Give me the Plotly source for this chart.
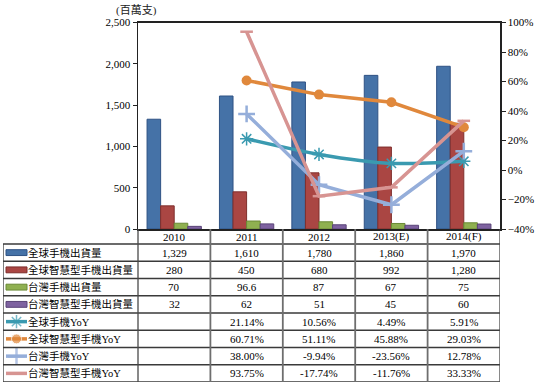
import plotly.graph_objects as go

# ---------------- data ----------------
years = ["2010", "2011", "2012", "2013(E)", "2014(F)"]
yoy_years = ["2011", "2012", "2013(E)", "2014(F)"]

bar_names = ["全球手機出貨量", "全球智慧型手機出貨量", "台灣手機出貨量", "台灣智慧型手機出貨量"]
global_phone = [1329, 1610, 1780, 1860, 1970]
global_smart = [280, 450, 680, 992, 1280]
tw_phone = [70, 96.6, 87, 67, 75]
tw_smart = [32, 62, 51, 45, 60]

line_names = ["全球手機YoY", "全球智慧型手機YoY", "台灣手機YoY", "台灣智慧型手機YoY"]
global_phone_yoy = [21.14, 10.56, 4.49, 5.91]
global_smart_yoy = [60.71, 51.11, 45.88, 29.03]
tw_phone_yoy = [38.00, -9.94, -23.56, 12.78]
tw_smart_yoy = [93.75, -17.74, -11.76, 33.33]

left_ticks = [0, 500, 1000, 1500, 2000, 2500]
right_ticks = [-0.4, -0.2, 0, 0.2, 0.4, 0.6, 0.8, 1.0]

# ---------------- styling ----------------
W, H = 538, 387
bar_colors = ["#4572A7", "#AA4643", "#8FB050", "#7E62A0"]
bar_edges = ["#2F5284", "#7F2F2D", "#6A8A36", "#5A4478"]
line_colors = ["#3A9AB0", "#E0883C", "#95AEDA", "#D79492"]
NUM_FONT = "Liberation Serif"
CJK_FONT = "Liberation Serif, Noto Sans CJK TC, sans-serif"
GRID = "#3a3a3a"


def fx(px):
    return px / W


def fy(py):
    return 1 - py / H


PLOT_L, PLOT_R, PLOT_T, PLOT_B = 138, 500, 22.5, 229
TAB_L, TAB_B = 3, 382
ROW_H = (TAB_B - 244) / 8
HDR = (244 - PLOT_B) / ROW_H
COL_W = (PLOT_R - PLOT_L) / 5
LBL = (PLOT_L - TAB_L) / COL_W  # label column width in column units

fig = go.Figure()

bar_series = [global_phone, global_smart, tw_phone, tw_smart]
for name, vals, c, e in zip(bar_names, bar_series, bar_colors, bar_edges):
    fig.add_trace(go.Bar(x=years, y=vals, name=name, marker=dict(color=c, line=dict(color=e, width=1)),
                         xaxis="x", yaxis="y"))

line_series = [global_phone_yoy, global_smart_yoy, tw_phone_yoy, tw_smart_yoy]
line_markers = [
    dict(symbol="asterisk-open", size=11, line=dict(color="#5BB8CC", width=1.5)),
    dict(symbol="circle", size=10, color=line_colors[1]),
    dict(symbol="cross-thin-open", size=12, line=dict(color="#A9BEE2", width=2.5)),
    dict(symbol="line-ew-open", size=9, line=dict(color=line_colors[3], width=2.5)),
]
line_shapes = ["spline", "linear", "linear", "linear"]
for name, vals, c, m, shp in zip(line_names, line_series, line_colors, line_markers, line_shapes):
    fig.add_trace(go.Scatter(x=yoy_years, y=[v / 100 for v in vals], name=name, mode="lines+markers",
                             line=dict(color=c, width=3.5, shape=shp, smoothing=0.8), marker=m,
                             xaxis="x", yaxis="y2", cliponaxis=False))

# ---------------- data table (overlay axes x3/y3) ----------------
annotations = []
shapes = []

# year header
for k, yr in enumerate(years):
    annotations.append(dict(x=k + 0.5, y=-HDR / 2, xref="x3", yref="y3", text=yr, showarrow=False,
                            font=dict(family=NUM_FONT, size=11, color="black")))


def fmt_num(v):
    return f"{v:,}" if isinstance(v, int) else f"{v}"


rows_text = [[fmt_num(v) for v in s] for s in bar_series]
rows_text += [[""] + [f"{v:.2f}%" for v in s] for s in line_series]
all_names = bar_names + line_names

for r, (nm, vals) in enumerate(zip(all_names, rows_text)):
    annotations.append(dict(x=-LBL + 23 / COL_W, y=r + 0.5, xref="x3", yref="y3", text=nm,
                            showarrow=False, xanchor="left",
                            font=dict(family=CJK_FONT, size=10.5, color="black")))
    for k, t in enumerate(vals):
        if t:
            annotations.append(dict(x=k + 0.5, y=r + 0.5, xref="x3", yref="y3", text=t, showarrow=False,
                                    font=dict(family=NUM_FONT, size=11, color="black")))

# legend keys for bar rows
for r in range(4):
    shapes.append(dict(type="rect", xref="x3", yref="y3", x0=-LBL + 3 / COL_W, x1=-LBL + 24 / COL_W,
                       y0=r + 0.5 - 0.17, y1=r + 0.5 + 0.17, fillcolor=bar_colors[r],
                       line=dict(color=bar_edges[r], width=1)))
# legend keys for line rows
for i in range(4):
    r = 4 + i
    m = dict(line_markers[i])
    m = dict(m, size=[0, m["size"], 0])
    fig.add_trace(go.Scatter(x=[-LBL + 3 / COL_W, -LBL + 13.5 / COL_W, -LBL + 24 / COL_W], y=[r + 0.5] * 3,
                             mode="lines+markers", line=dict(color=line_colors[i], width=3.5),
                             marker=m, xaxis="x3", yaxis="y3", cliponaxis=False, showlegend=False,
                             hoverinfo="skip"))

# grid lines
for r in range(9):
    shapes.append(dict(type="line", xref="x3", yref="y3", x0=-LBL, x1=5, y0=r, y1=r,
                       line=dict(color=GRID, width=1.3)))
shapes.append(dict(type="line", xref="x3", yref="y3", x0=-LBL, x1=-LBL, y0=0, y1=8,
                   line=dict(color=GRID, width=1.3)))
for k in range(6):
    shapes.append(dict(type="line", xref="x3", yref="y3", x0=k, x1=k, y0=-HDR, y1=8,
                       line=dict(color="#4a4a4a" if k in (0, 5) else "#6e6e6e",
                                 width=1.3 if k in (0, 5) else 1.8)))

annotations.append(dict(x=fx(114), y=fy(10), xref="paper", yref="paper", text="(百萬支)", showarrow=False,
                        yanchor="middle", font=dict(family=CJK_FONT, size=11, color="#222")))

fig.update_layout(
    template="none",
    width=W, height=H, margin=dict(l=0, r=0, t=0, b=0, pad=0), autosize=False,
    paper_bgcolor="white", plot_bgcolor="white", showlegend=False,
    font=dict(family=NUM_FONT, size=11, color="black"),
    barmode="group", bargap=0.25, bargroupgap=0,
    xaxis=dict(domain=[fx(PLOT_L), fx(PLOT_R)], type="category", categoryorder="array", categoryarray=years,
               range=[-0.5, 4.5], showticklabels=False, ticks="", showline=True, linecolor="#222",
               linewidth=1.5, mirror=True, showgrid=False, zeroline=False, anchor="y", automargin=False),
    yaxis=dict(domain=[fy(PLOT_B), fy(PLOT_T)], range=[0, 2500], tickvals=left_ticks, tickformat=",",
               ticks="outside", ticklen=4, tickcolor="#222", showline=True, linecolor="#222", linewidth=1.5,
               showgrid=False, zeroline=False, anchor="x", automargin=False,
               tickfont=dict(family=NUM_FONT, size=11, color="black")),
    yaxis2=dict(overlaying="y", side="right", range=[-0.4, 1.0], tickvals=right_ticks, tickformat=".0%",
                ticks="outside", ticklen=4, tickcolor="#222", showline=True, linecolor="#222", linewidth=1.5,
                showgrid=False, zeroline=False, anchor="x", automargin=False,
                tickfont=dict(family=NUM_FONT, size=11, color="black")),
    xaxis3=dict(domain=[fx(TAB_L), fx(PLOT_R)], range=[-LBL, 5], visible=False, anchor="y3",
                automargin=False),
    yaxis3=dict(domain=[fy(TAB_B), fy(PLOT_B)], range=[8, -HDR], visible=False, anchor="x3",
                automargin=False),
    annotations=annotations, shapes=shapes,
)

fig.write_html("out.html", config={"displayModeBar": False, "staticPlot": True},
               post_script="document.body.style.margin='0';")
